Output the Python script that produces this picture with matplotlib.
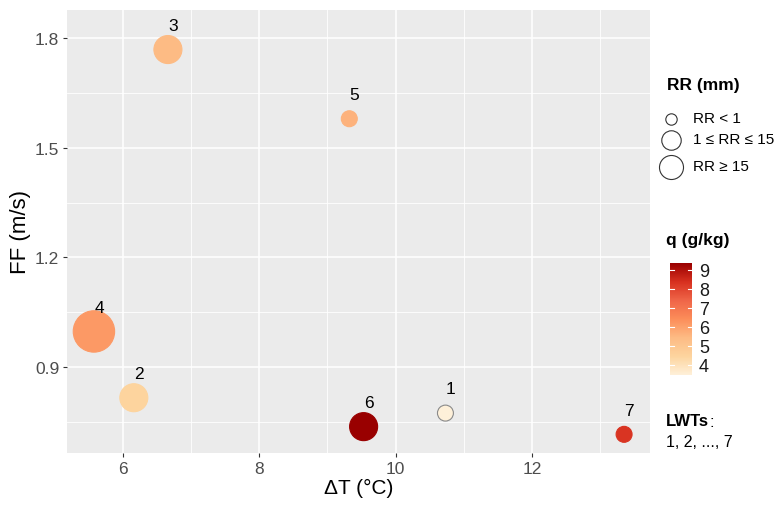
import numpy as np
import matplotlib
matplotlib.use("Agg")
import matplotlib.pyplot as plt
from matplotlib.colors import LinearSegmentedColormap, Normalize, to_rgb
from matplotlib.cm import ScalarMappable

plt.rcParams["font.family"] = ["Liberation Sans", "DejaVu Sans"]

# data
lwt = [1, 2, 3, 4, 5, 6, 7]
dT = [10.73, 6.16, 6.66, 5.575, 9.32, 9.53, 13.35]
FF = [0.775, 0.817, 1.768, 0.998, 1.579, 0.738, 0.717]
q = [3.46, 4.45, 5.42, 6.13, 5.62, 9.35, 8.29]
rr_class = [0, 1, 1, 2, 0, 1, 0]          # 0: RR<1, 1: 1<=RR<=15, 2: RR>=15
rr_labels = ["RR < 1", "1 ≤ RR ≤ 15", "RR ≥ 15"]
q_ticks = [4, 5, 6, 7, 8, 9]
q_lim = (3.46, 9.35)

orrd = ["#FEF0D9", "#FDD49E", "#FDBB84", "#FC8D59", "#EF6548", "#D7301F", "#990000"]
cmap = LinearSegmentedColormap.from_list("orrd", orrd)
norm = Normalize(*q_lim)

plot_sizes = [132, 407, 888]     # marker area (pt^2) per RR class in panel
key_sizes = [67, 196, 299]       # legend key sizes

W, H = 779, 506
fig = plt.figure(figsize=(W / 100, H / 100), dpi=100)
ax = fig.add_axes([67 / W, 1 - 454 / H, (650 - 67) / W, (454 - 11) / H])
ax.set_facecolor("#EBEBEB")
for s in ax.spines.values():
    s.set_visible(False)

cols = [cmap(norm(v)) for v in q]
edges = []
for c in cols:
    r, g, b = to_rgb(c)
    edges.append("#8a8a8a" if 0.3 * r + 0.59 * g + 0.11 * b > 0.9 else c)
ax.scatter(dT, FF, s=[plot_sizes[k] for k in rr_class], c=cols,
           edgecolors=edges, linewidths=0.8, zorder=3)
for i, n in enumerate(lwt):
    ax.text(dT[i] + 0.075, FF[i] + 0.066, str(n), ha="center", va="center",
            fontsize=12.5, color="black", zorder=4)

ax.set_xlim(5.18, 13.73)
ax.set_ylim(0.666, 1.876)
ax.set_xticks([6, 8, 10, 12])
ax.set_xticks([7, 9, 11, 13], minor=True)
ax.set_yticks([0.9, 1.2, 1.5, 1.8])
ax.set_yticks([0.75, 1.05, 1.35, 1.65], minor=True)
ax.set_yticklabels(["0.9", "1.2", "1.5", "1.8"])
ax.grid(which="major", color="white", lw=1.1)
ax.grid(which="minor", color="white", lw=0.6)
ax.set_axisbelow(True)
ax.tick_params(which="major", length=3, width=0.8, color="#333333",
               labelsize=12.5, labelcolor="#4D4D4D", pad=2.5)
ax.tick_params(which="minor", length=0)
ax.set_xlabel("ΔT (°C)", fontsize=15, labelpad=2)
ax.set_ylabel("FF (m/s)", fontsize=16, labelpad=3)

# legend overlay in pixel coordinates
lg = fig.add_axes([0, 0, 1, 1], facecolor="none")
lg.set_xlim(0, W)
lg.set_ylim(H, 0)
lg.axis("off")
lg.text(667, 85, "RR (mm)", fontsize=12.5, fontweight="bold", va="center")
key_y = [120, 141, 168]
for k in range(3):
    lg.scatter([671], [key_y[k]], s=key_sizes[k], facecolors="white",
               edgecolors="#333333", linewidths=0.8)
    lg.text(693, key_y[k] - 1, rr_labels[k], fontsize=11, va="center")

lg.text(666, 240, "q (g/kg)", fontsize=12.5, fontweight="bold", va="center")
t_lwt = lg.text(666, 426, "LWTs", fontsize=12, fontweight="bold", va="baseline")
lg.annotate(":", xy=(1, 0), xycoords=t_lwt, xytext=(0.5, -1),
            textcoords="offset points", fontsize=12, va="bottom", ha="left")
lg.text(666, 443, "1, 2, ..., 7", fontsize=11.5, va="center")

cax = fig.add_axes([670 / W, 1 - 376 / H, 22 / W, 112 / H])
cb = fig.colorbar(ScalarMappable(norm=norm, cmap=cmap), cax=cax, ticks=q_ticks)
cb.outline.set_visible(False)
cax.tick_params(length=0, labelsize=13, labelcolor="#1a1a1a", pad=5)
for v in q_ticks:
    cax.plot([0, 0.2], [v, v], color="white", lw=0.8)
    cax.plot([0.8, 1], [v, v], color="white", lw=0.8)

fig.savefig("out.png", dpi=100)
